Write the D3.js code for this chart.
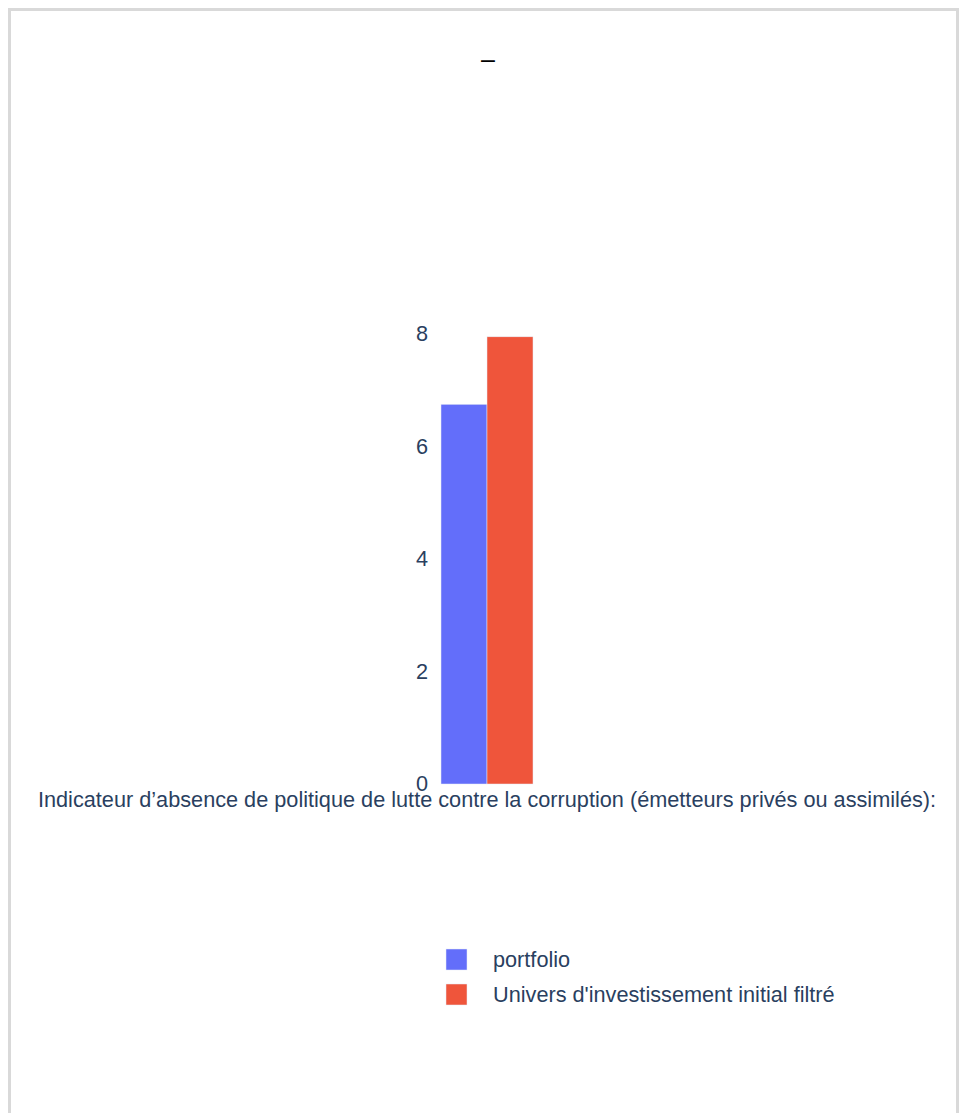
<!DOCTYPE html>
<html>
<head>
<meta charset="utf-8">
<script src="https://cdn.jsdelivr.net/npm/d3@7"></script>
<style>
  html, body { margin: 0; padding: 0; background: #fff; }
  svg { display: block; font-family: "Liberation Sans", Arial, sans-serif; }
</style>
</head>
<body>
<svg id="chart" width="967" height="1113"></svg>
<script>
// Chart data
const categories = ["Indicateur d\u2019absence de politique de lutte contre la corruption (\u00e9metteurs priv\u00e9s ou assimil\u00e9s):"];
const seriesNames = ["portfolio", "Univers d'investissement initial filtr\u00e9"];
const portfolioValues = [6.75];
const universeValues = [7.95];
const yTicks = [0, 2, 4, 6, 8];
const titleText = "\u2013";

const seriesColors = ["#636efa", "#ef553b"];
const seriesValues = [portfolioValues, universeValues];
const textColor = "#2a3f5f";
const fontSize = 21.7;

const svg = d3.select("#chart");

// page frame
svg.append("rect")
  .attr("x", 9.5).attr("y", 9.5)
  .attr("width", 948).attr("height", 1200)
  .attr("fill", "#fff")
  .attr("stroke", "#d9d9d9")
  .attr("stroke-width", 3);

// title
svg.append("text")
  .attr("x", 488).attr("y", 68)
  .attr("text-anchor", "middle")
  .attr("font-size", 25)
  .attr("fill", "#000")
  .text(titleText);

// scales
const y = d3.scaleLinear().domain([0, 8]).range([784, 334]);
const x0 = d3.scaleBand().domain(categories).range([441, 533]).padding(0);
const x1 = d3.scaleBand().domain(seriesNames).range([0, x0.bandwidth()]).padding(0);

// y axis (labels only)
const yAxis = d3.axisLeft(y).tickValues(yTicks).tickSize(0).tickPadding(0).tickFormat(d3.format("d"));
const gy = svg.append("g").attr("transform", "translate(428,0)").call(yAxis);
gy.select(".domain").remove();
gy.selectAll("text")
  .attr("font-size", fontSize)
  .attr("fill", textColor)
  .attr("font-family", "Liberation Sans, Arial, sans-serif");

// bars
const groups = svg.append("g").selectAll("g")
  .data(categories)
  .join("g")
  .attr("transform", d => `translate(${x0(d)},0)`);

groups.selectAll("rect")
  .data((d, i) => seriesNames.map((s, j) => ({ s, v: seriesValues[j][i], c: seriesColors[j] })))
  .join("rect")
  .attr("x", d => x1(d.s))
  .attr("width", x1.bandwidth())
  .attr("y", d => y(d.v))
  .attr("height", d => y(0) - y(d.v))
  .attr("fill", d => d.c)
  .attr("stroke", "#E5ECF6")
  .attr("stroke-width", 0.5);

// category axis label
const xAxis = d3.axisBottom(x0).tickSize(0).tickPadding(0);
const gx = svg.append("g").attr("transform", "translate(0,784)").call(xAxis);
gx.select(".domain").remove();
gx.selectAll("text")
  .attr("y", 23)
  .attr("dy", 0)
  .attr("font-size", fontSize)
  .attr("fill", textColor)
  .attr("font-family", "Liberation Sans, Arial, sans-serif");

// legend
const legend = svg.append("g").attr("transform", "translate(446,949)");
const items = legend.selectAll("g")
  .data(seriesNames)
  .join("g")
  .attr("transform", (d, i) => `translate(0,${i * 35})`);
items.append("rect")
  .attr("width", 21).attr("height", 21)
  .attr("fill", (d, i) => seriesColors[i])
  .attr("stroke", "#E5ECF6")
  .attr("stroke-width", 0.5);
items.append("text")
  .attr("x", 47).attr("y", 18)
  .attr("font-size", fontSize)
  .attr("fill", textColor)
  .text(d => d);
</script>
</body>
</html>
